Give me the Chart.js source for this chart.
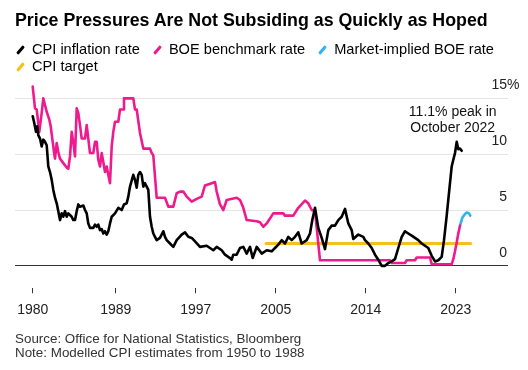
<!DOCTYPE html>
<html>
<head>
<meta charset="utf-8">
<script src="https://cdn.jsdelivr.net/npm/chart.js@4.4.1/dist/chart.umd.min.js"></script>
<style>
  body { margin: 0; background: #fff; font-family: "Liberation Sans", Arial, sans-serif; color: #000; }
  #wrap { position: relative; width: 528px; height: 370px; overflow: hidden; }
  canvas { position: absolute; left: 0; top: 0; }
  h1 { position: absolute; left: 15px; top: 10px; margin: 0; font-size: 17.8px; line-height: 20px; font-weight: bold; white-space: nowrap; }
  .legend { position: absolute; left: 15px; top: 41px; width: 510px; display: flex; flex-wrap: wrap; font-size: 14.6px; line-height: 17px; }
  .item { display: flex; align-items: center; margin-right: 12px; }
  .sw { width: 3px; height: 10px; transform: rotate(40deg); margin: 0 10px 0 4px; border-radius: 1px; }
  .note { position: absolute; left: 15px; top: 332px; font-size: 13.4px; line-height: 13.5px; color: #333; }
</style>
</head>
<body>
<div id="wrap">
  <canvas id="chart" width="528" height="370"></canvas>
  <h1>Price Pressures Are Not Subsiding as Quickly as Hoped</h1>
  <div class="legend">
    <div class="item"><span class="sw" style="background:#000"></span>CPI inflation rate</div>
    <div class="item"><span class="sw" style="background:#ee1b8e"></span>BOE benchmark rate</div>
    <div class="item"><span class="sw" style="background:#2fb2ef"></span>Market-implied BOE rate</div>
    <div class="item"><span class="sw" style="background:#f6c01c"></span>CPI target</div>
  </div>
  <div class="note">Source: Office for National Statistics, Bloomberg<br>Note: Modelled CPI estimates from 1950 to 1988</div>
</div>
<script>
// x tick labels; the first one sits at the start of the data
const tickLabels = ['1980', '1989', '1997', '2005', '2014', '2023'];
const tickYears = [1989, 1997, 2005, 2014, 2023];
const yTicks = [0, 5, 10, 15];

// [year, %]
const cpiRate = [
    [1980.70, 13.4], [1980.83, 12.9], [1981.03, 12.0], [1981.16, 12.5], [1981.26, 11.7], [1981.43, 11.4],
    [1981.60, 10.7], [1981.76, 11.3], [1981.93, 11.1], [1982.10, 10.8], [1982.26, 8.9], [1982.43, 8.4],
    [1982.60, 7.7], [1982.76, 6.8], [1982.93, 6.1], [1983.10, 5.6], [1983.26, 4.9], [1983.43, 4.1],
    [1983.60, 4.7], [1983.76, 4.4], [1983.93, 4.9], [1984.10, 4.4], [1984.26, 4.7], [1984.60, 4.4],
    [1984.76, 4.1], [1984.93, 4.1], [1985.10, 4.9], [1985.26, 5.5], [1985.43, 5.3], [1985.76, 5.4],
    [1985.93, 5.0], [1986.10, 4.7], [1986.26, 3.8], [1986.43, 3.4], [1986.76, 3.4], [1986.93, 3.7],
    [1987.10, 3.5], [1987.26, 3.7], [1987.43, 3.2], [1987.60, 3.3], [1987.76, 2.9], [1987.93, 3.1],
    [1988.10, 2.8], [1988.26, 3.1], [1988.43, 3.8], [1988.60, 4.4], [1988.93, 4.7], [1989.26, 5.2],
    [1989.60, 5.0], [1989.83, 5.5], [1990.10, 5.6], [1990.26, 6.2], [1990.43, 7.1], [1990.76, 8.15],
    [1990.93, 7.7], [1991.10, 7.0], [1991.26, 8.15], [1991.43, 8.4], [1991.60, 8.15], [1991.76, 7.1],
    [1991.93, 7.4], [1992.10, 7.1], [1992.26, 6.8], [1992.43, 4.4], [1992.60, 3.5], [1992.76, 2.9],
    [1992.93, 2.6], [1993.10, 2.3], [1993.43, 2.5], [1993.76, 3.1], [1993.93, 2.6], [1994.10, 2.3],
    [1994.43, 2.0], [1994.76, 1.7], [1995.10, 2.3], [1995.60, 2.8], [1995.93, 3.0], [1996.26, 2.6],
    [1996.60, 2.5], [1996.93, 2.2], [1997.43, 1.7], [1998.10, 1.8], [1998.76, 1.4], [1999.10, 1.7],
    [1999.60, 1.4], [1999.93, 1.0], [2000.43, 0.7], [2000.60, 0.55], [2000.76, 1.0], [2001.10, 1.0],
    [2001.43, 1.6], [2001.76, 1.7], [2002.10, 1.1], [2002.43, 1.7], [2002.70, 0.7], [2003.10, 1.7],
    [2003.60, 1.1], [2004.10, 1.4], [2004.60, 1.3], [2004.93, 1.6], [2005.26, 1.9], [2005.60, 2.3],
    [2005.93, 2.0], [2006.26, 2.6], [2006.60, 2.3], [2006.93, 2.6], [2007.26, 3.0], [2007.60, 2.0],
    [2008.10, 2.3], [2008.43, 2.9], [2008.66, 4.1], [2008.93, 5.2], [2009.26, 3.4], [2009.60, 2.5],
    [2009.93, 1.5], [2010.26, 3.2], [2010.60, 3.6], [2010.93, 3.6], [2011.26, 4.1], [2011.60, 4.4],
    [2011.93, 5.1], [2012.26, 3.8], [2012.60, 3.2], [2012.76, 2.4], [2013.26, 2.8], [2013.76, 2.6],
    [2013.93, 2.3], [2014.26, 2.0], [2014.60, 1.6], [2014.93, 1.0], [2015.26, 0.55], [2015.60, 0.0],
    [2015.93, 0.0], [2016.26, 0.25], [2016.60, 0.4], [2016.93, 0.6], [2017.26, 1.6], [2017.60, 2.6],
    [2017.93, 3.1], [2018.26, 2.9], [2018.60, 2.7], [2018.93, 2.5], [2019.26, 2.3], [2019.60, 2.0],
    [2019.93, 1.8], [2020.26, 1.6], [2020.60, 0.9], [2020.93, 0.4], [2021.26, 0.5], [2021.60, 0.8],
    [2021.83, 2.3], [2022.10, 4.5], [2022.36, 6.8], [2022.60, 8.9], [2022.76, 9.5], [2022.93, 10.1],
    [2023.10, 11.1], [2023.26, 10.45], [2023.43, 10.5], [2023.60, 10.3]
];

const boeRate = [
    [1980.70, 16.05], [1980.93, 14.1], [1981.10, 14.0], [1981.36, 12.0], [1981.60, 13.7], [1981.76, 15.0],
    [1982.10, 13.8], [1982.36, 13.1], [1982.50, 12.5], [1982.70, 11.1], [1982.83, 10.2], [1982.93, 9.6],
    [1983.10, 11.0], [1983.26, 10.2], [1983.43, 9.6], [1983.76, 9.2], [1984.10, 8.8], [1984.26, 8.7],
    [1984.43, 9.8], [1984.60, 12.0], [1984.76, 11.1], [1984.93, 9.8], [1985.10, 14.1], [1985.26, 13.7],
    [1985.43, 12.6], [1985.60, 11.4], [1985.93, 11.4], [1986.10, 12.6], [1986.26, 11.4], [1986.43, 10.1],
    [1986.76, 10.1], [1986.93, 11.1], [1987.10, 11.1], [1987.26, 9.5], [1987.43, 8.9], [1987.60, 10.1],
    [1987.76, 9.3], [1987.93, 8.4], [1988.10, 8.9], [1988.26, 8.15], [1988.43, 7.4], [1988.60, 10.7],
    [1988.76, 12.0], [1988.93, 12.9], [1989.26, 12.9], [1989.43, 14.0], [1989.76, 14.0], [1989.83, 15.0],
    [1990.76, 15.0], [1990.93, 14.0], [1991.10, 14.0], [1991.43, 11.9], [1991.76, 10.5], [1992.43, 10.5],
    [1992.60, 10.1], [1992.76, 9.9], [1993.10, 6.1], [1993.93, 6.1], [1994.26, 5.3], [1994.76, 5.3],
    [1995.10, 6.5], [1995.43, 6.65], [1995.76, 6.65], [1996.10, 6.2], [1996.60, 5.75], [1997.10, 6.0],
    [1997.60, 6.2], [1997.93, 7.2], [1998.60, 7.4], [1998.93, 7.5], [1999.10, 6.65], [1999.43, 5.5],
    [1999.76, 5.0], [2000.10, 5.9], [2001.10, 6.1], [2001.43, 5.9], [2001.76, 5.2], [2002.10, 4.1],
    [2003.10, 4.0], [2003.43, 3.9], [2003.76, 3.5], [2004.10, 3.8], [2004.76, 4.7], [2005.76, 4.7],
    [2005.93, 4.5], [2006.76, 4.5], [2007.26, 5.2], [2007.93, 5.85], [2008.26, 5.6], [2008.60, 5.0],
    [2008.93, 4.9], [2009.43, 0.5], [2016.43, 0.5], [2016.63, 0.25], [2017.93, 0.25], [2018.10, 0.5],
    [2018.93, 0.5], [2019.10, 0.75], [2020.43, 0.75], [2020.60, 0.15], [2022.60, 0.15], [2022.76, 0.6],
    [2022.93, 1.3], [2023.10, 2.1], [2023.26, 2.9], [2023.43, 3.6]
];

const impliedRate = [
    [2023.43, 3.6], [2023.66, 4.3], [2023.93, 4.65], [2024.10, 4.77], [2024.33, 4.7], [2024.46, 4.5]
];

const cpiTarget = [[2004.03, 2], [2024.50, 2]];

const FONT = '"Liberation Sans", Arial, sans-serif';

// y labels sit above their gridlines at the right edge, "%" hangs past the numbers
const rightLabels = {
    id: 'rightLabels',
    afterDraw(chart) {
        const { ctx, scales: { x, y } } = chart;
        ctx.save();
        ctx.font = '14px ' + FONT;
        ctx.fillStyle = '#222';
        ctx.textBaseline = 'middle';
        yTicks.forEach(v => {
            const py = y.getPixelForValue(v) - 13;
            ctx.textAlign = 'right';
            ctx.fillText(String(v), chart.chartArea.right - 1, py);
            if (v === yTicks[yTicks.length - 1]) {
                ctx.textAlign = 'left';
                ctx.fillText('%', chart.chartArea.right - 1, py);
            }
        });
        // note over the recent peak
        const peak = cpiRate.filter(d => d[0] > 2020).reduce((a, b) => (b[1] > a[1] ? b : a));
        const cx = x.getPixelForValue(peak[0]) - 4;
        const cy = y.getPixelForValue(peak[1]);
        ctx.fillStyle = '#111';
        ctx.textAlign = 'center';
        ctx.fillText('11.1% peak in', cx, cy - 30);
        ctx.fillText('October 2022', cx, cy - 14);
        ctx.restore();
    }
};

new Chart(document.getElementById('chart'), {
    type: 'line',
    data: {
        datasets: [
            { label: 'CPI inflation rate', data: cpiRate, borderColor: '#000', borderWidth: 2.6 },
            { label: 'BOE benchmark rate', data: boeRate, borderColor: '#ee1b8e', borderWidth: 2.6 },
            { label: 'Market-implied BOE rate', data: impliedRate, borderColor: '#2fb2ef', borderWidth: 2.6 },
            { label: 'CPI target', data: cpiTarget, borderColor: '#f6c01c', borderWidth: 3 }
        ]
    },
    options: {
        responsive: false,
        animation: false,
        elements: {
            point: { radius: 0 },
            line: { tension: 0, borderJoinStyle: 'round', borderCapStyle: 'round' }
        },
        layout: { padding: { top: 76, left: 15, right: 20, bottom: 42 } },
        plugins: {
            legend: { display: false },
            tooltip: { enabled: false }
        },
        scales: {
            x: {
                type: 'linear',
                min: 1978.93,
                max: 2028.23,
                afterBuildTicks: s => {
                    s.ticks = [cpiRate[0][0], ...tickYears].map(v => ({ value: v }));
                },
                ticks: {
                    callback: (v, i) => tickLabels[i],
                    font: { size: 14, family: FONT },
                    color: '#222',
                    padding: 9,
                    maxRotation: 0,
                    autoSkip: false
                },
                grid: { drawOnChartArea: false, tickLength: 5, color: '#333' },
                border: { display: false }
            },
            y: {
                position: 'right',
                min: -2,
                max: 17,
                afterBuildTicks: s => {
                    s.ticks = yTicks.map(v => ({ value: v }));
                },
                afterFit: s => { s.width = 0; },
                ticks: { display: false },
                grid: {
                    color: c => (c.tick.value === 0 ? '#333' : '#e4e4e4'),
                    drawTicks: false,
                    lineWidth: 1
                },
                border: { display: false }
            }
        }
    },
    plugins: [rightLabels]
});
</script>
</body>
</html>
